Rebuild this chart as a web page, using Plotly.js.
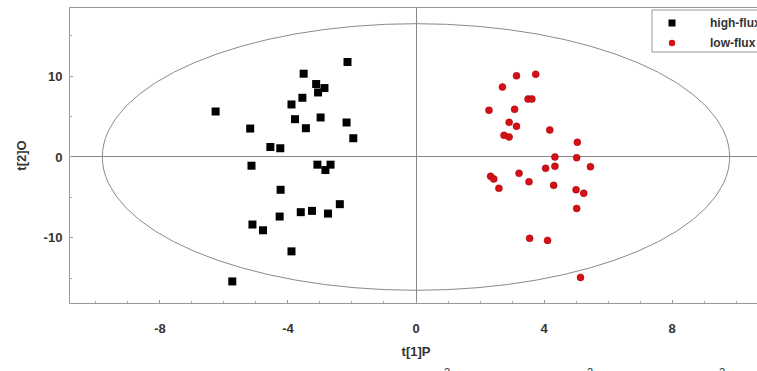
<!DOCTYPE html>
<html>
<head>
<meta charset="utf-8">
<script src="https://cdn.plot.ly/plotly-3.0.1.min.js"></script>
<style>html,body{margin:0;padding:0;overflow:hidden;background:#fff}</style>
</head>
<body>
<div id="chart"></div>
<script>
// high-flux group scores
const highX = [-2.14,-3.51,-3.12,-2.86,-3.06,-3.55,-3.89,-6.26,-3.78,-2.98,-2.17,-3.44,-5.18,-1.96,-4.55,-4.24,-5.14,-3.08,-2.67,-2.83,-4.23,-2.38,-3.60,-3.25,-2.75,-4.26,-5.11,-4.78,-3.89,-5.74];
const highY = [11.76,10.31,9.03,8.53,7.99,7.33,6.50,5.63,4.68,4.89,4.27,3.56,3.52,2.32,1.24,1.08,-1.08,-0.95,-0.95,-1.61,-4.06,-5.84,-6.83,-6.67,-7.00,-7.37,-8.36,-9.07,-11.68,-15.40];
// low-flux group scores
const lowX = [3.14,3.74,2.70,3.50,3.62,2.28,3.08,2.91,3.14,4.18,2.75,2.91,5.04,4.34,5.02,4.05,4.34,5.45,2.33,2.43,3.22,3.53,2.59,4.30,5.00,5.24,5.02,3.55,4.11,5.14];
const lowY = [10.06,10.23,8.66,7.18,7.18,5.78,5.90,4.29,3.80,3.34,2.68,2.48,1.82,0.00,-0.08,-1.40,-1.15,-1.20,-2.39,-2.72,-2.02,-3.06,-3.88,-3.51,-4.05,-4.50,-6.36,-10.07,-10.32,-14.90];
const seriesNames = ["high-flux", "low-flux"];
const seriesColors = ["#000000", "#d21018"];
const xTicks = [-8, -4, 0, 4, 8];
const xTickLabels = ["-8", "-4", "0", "4", "8"];
const yTicks = [-10, 0, 10];
const yTickLabels = ["-10", "0", "10"];
const ellipseA = 9.8, ellipseB = 16.5;
const footerTexts = ["2", "2", "2"];

const W = 770, H = 371;
const mL = 70, mR = 8, mT = 8, mB = 68;
const plotH = H - mT - mB, plotW = W - mL - mR;
const pyToPaper = py => (H - mB - py) / plotH;
const pxToPaper = px => (px - mL) / plotW;

const FONT = "Liberation Sans, Arial, sans-serif";
const bold = {family: FONT, size: 13, color: "#333", weight: 700};

const traces = [
  {x: highX, y: highY, type: "scatter", mode: "markers", name: seriesNames[0],
   marker: {symbol: "square", size: 8, color: seriesColors[0]}},
  {x: lowX, y: lowY, type: "scatter", mode: "markers", name: seriesNames[1],
   marker: {symbol: "circle", size: 7, color: seriesColors[1], line: {color: "#a00", width: 0.5}}}
];

// footer (cut-off statistics line)
const footerX = [447, 590, 722];
const annotations = footerTexts.map((t, i) => ({
  text: t, xref: "paper", yref: "paper", x: pxToPaper(footerX[i]), y: pyToPaper(364),
  xanchor: "center", yanchor: "top", showarrow: false,
  font: {family: FONT, size: 11, color: "#333"}
}));

// legend drawn with shapes + text
const legLeft = 652, legTop = 10, legBottom = 52, legRight = 770;
const rowY = [23, 43];
const symX = 672, textX = 708;
const shapes = [
  {type: "circle", xref: "x", yref: "y", x0: -ellipseA, x1: ellipseA, y0: -ellipseB, y1: ellipseB,
   line: {color: "#8a8a8a", width: 1}, layer: "below"},
  {type: "rect", xref: "paper", yref: "paper", x0: pxToPaper(legLeft), x1: pxToPaper(legRight),
   y0: pyToPaper(legBottom), y1: pyToPaper(legTop), fillcolor: "#fff", line: {color: "#999", width: 1}, layer: "above"},
  {type: "rect", xref: "paper", yref: "paper", xsizemode: "pixel", ysizemode: "pixel",
   xanchor: pxToPaper(symX), yanchor: pyToPaper(rowY[0]), x0: -3.5, x1: 3.5, y0: -3.5, y1: 3.5,
   fillcolor: seriesColors[0], line: {width: 0}, layer: "above"},
  {type: "circle", xref: "paper", yref: "paper", xsizemode: "pixel", ysizemode: "pixel",
   xanchor: pxToPaper(symX), yanchor: pyToPaper(rowY[1]), x0: -3.2, x1: 3.2, y0: -3.2, y1: 3.2,
   fillcolor: seriesColors[1], line: {width: 0}, layer: "above"}
];
seriesNames.forEach((n, i) => annotations.push({
  text: n, xref: "paper", yref: "paper", x: pxToPaper(textX), y: pyToPaper(rowY[i]),
  xanchor: "left", yanchor: "middle", showarrow: false,
  font: {family: FONT, size: 12, color: "#333", weight: 700}
}));

const layout = {
  width: W, height: H,
  margin: {l: mL, r: mR, t: mT, b: mB, pad: 0},
  paper_bgcolor: "#fff", plot_bgcolor: "#fff",
  showlegend: false,
  xaxis: {range: [-10.81, 10.81], tickvals: xTicks, ticktext: xTickLabels, ticks: "inside", ticklen: 3, tickcolor: "#999",
    minor: {dtick: 1, ticks: "inside", ticklen: 2, tickcolor: "#aaa"},
    showgrid: false, zeroline: true, zerolinecolor: "#888", zerolinewidth: 1,
    showline: true, linecolor: "#999", linewidth: 1, mirror: true,
    tickfont: bold, ticklabelstandoff: 13,
    title: {text: "t[1]P", font: bold, standoff: 12}},
  yaxis: {range: [-18.07, 18.44], tickvals: yTicks, ticktext: yTickLabels, ticks: "inside", ticklen: 3, tickcolor: "#999",
    minor: {dtick: 5, ticks: "inside", ticklen: 2, tickcolor: "#aaa"},
    showgrid: false, zeroline: true, zerolinecolor: "#888", zerolinewidth: 1,
    showline: true, linecolor: "#999", linewidth: 1, mirror: true,
    tickfont: bold, ticklabelstandoff: 4,
    title: {text: "t[2]O", font: bold, standoff: 14}},
  shapes: shapes,
  annotations: annotations
};

Plotly.newPlot("chart", traces, layout, {displayModeBar: false, staticPlot: true});
</script>
</body>
</html>
